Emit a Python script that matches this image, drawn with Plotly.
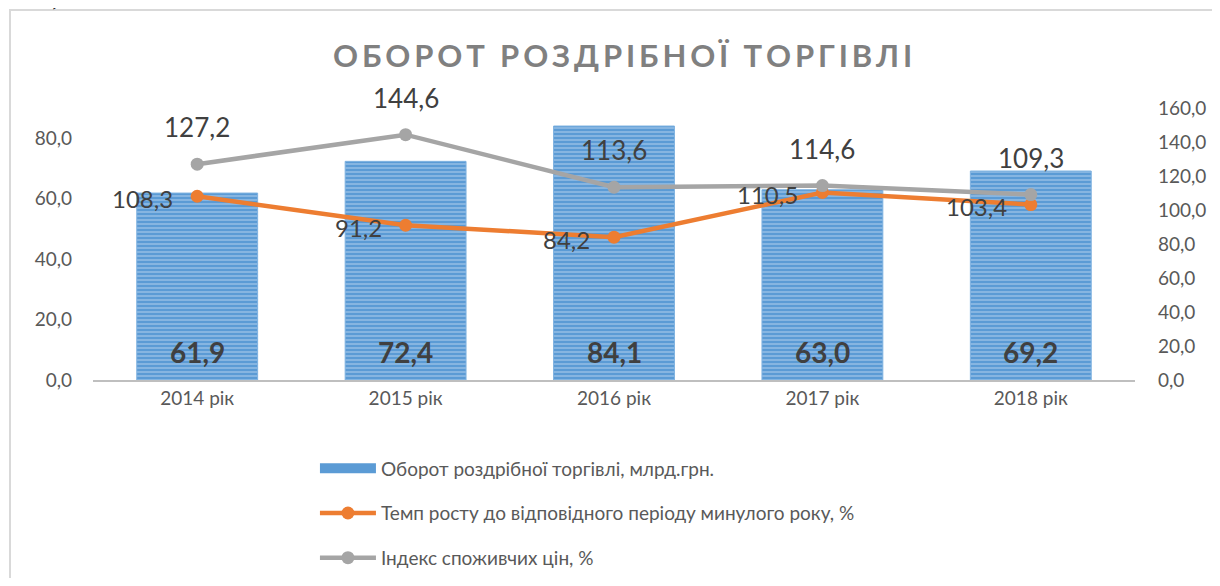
import plotly.graph_objects as go

categories = ["2014 рік", "2015 рік", "2016 рік", "2017 рік", "2018 рік"]
turnover = [61.9, 72.4, 84.1, 63.0, 69.2]
growth_rate = [108.3, 91.2, 84.2, 110.5, 103.4]
cpi = [127.2, 144.6, 113.6, 114.6, 109.3]

left_ticks = [0, 20, 40, 60, 80]
right_ticks = [0, 20, 40, 60, 80, 100, 120, 140, 160]

def fmt(v):
    return f"{v:.1f}".replace(".", ",")

FONT = "Lato, 'Open Sans', sans-serif"
BLUE = "#5B9BD5"
ORANGE = "#ED7D31"
GRAY = "#A5A5A5"
TXT = "#595959"

W, H = 1204, 570
ML, MR, MT, MB = 85, 77, 70, 198
PW = W - ML - MR
PH = H - MT - MB

fig = go.Figure()

fig.add_trace(go.Bar(
    x=categories, y=turnover,
    name="Оборот роздрібної торгівлі, млрд.грн.",
    marker=dict(color=BLUE,
                line=dict(color="#7FB2E0", width=1),
                pattern=dict(shape="-", fgcolor="#EAF2FB", bgcolor=BLUE,
                             size=4, solidity=0.3, fillmode="overlay")),
    yaxis="y", showlegend=False, legendgroup="a",
))
# legend entry for the bar series (wide swatch)
fig.add_trace(go.Scatter(
    x=[None], y=[None], mode="lines",
    name="Оборот роздрібної торгівлі, млрд.грн.",
    line=dict(color=BLUE, width=11), yaxis="y", legendgroup="a",
))
fig.add_trace(go.Scatter(
    x=categories, y=growth_rate, mode="lines+markers",
    name="Темп росту до відповідного періоду минулого року, %",
    line=dict(color=ORANGE, width=4.5), marker=dict(size=13, color=ORANGE),
    yaxis="y2", legendgroup="b",
))
fig.add_trace(go.Scatter(
    x=categories, y=cpi, mode="lines+markers",
    name="Індекс споживчих цін, %",
    line=dict(color=GRAY, width=4.5), marker=dict(size=13, color=GRAY),
    yaxis="y2", legendgroup="c",
))

annotations = []
for c, v in zip(categories, turnover):
    annotations.append(dict(x=c, y=0, xref="x", yref="y", text=f"<b>{fmt(v)}</b>",
                            showarrow=False, yshift=28,
                            font=dict(family=FONT, size=28, color="#404040")))
for c, v in zip(categories, cpi):
    annotations.append(dict(x=c, y=v, xref="x", yref="y2", text=fmt(v),
                            showarrow=False, yshift=37,
                            font=dict(family=FONT, size=26, color="#404040")))
for c, v in zip(categories, growth_rate):
    annotations.append(dict(x=c, y=v, xref="x", yref="y2", text=fmt(v),
                            showarrow=False, xanchor="right", xshift=-22, yshift=-2,
                            font=dict(family=FONT, size=24, color="#404040")))

title_text = "\u2009".join(list("ОБОРОТ РОЗДРІБНОЇ ТОРГІВЛІ"))
annotations.append(dict(x=0.5, y=(372 - 47) / PH, xref="paper", yref="paper",
                        text=f"<b>{title_text}</b>", showarrow=False, yanchor="middle",
                        xshift=8, font=dict(family=FONT, size=31, color="#808080")))
annotations.append(dict(x=(59 - ML) / PW, y=(372 + 11) / PH, xref="paper", yref="paper",
                        text="л 10).", showarrow=False, xanchor="right", yanchor="middle",
                        font=dict(family="Liberation Serif", size=22, color="#000000")))

fig.update_layout(
    width=W, height=H,
    margin=dict(l=ML, r=MR, t=MT, b=MB, autoexpand=False),
    paper_bgcolor="white", plot_bgcolor="white",
    font=dict(family=FONT, size=19, color=TXT),
    bargap=0.42,
    xaxis=dict(categoryorder="array", categoryarray=categories,
               showline=True, linecolor="#BFBFBF", linewidth=2,
               showgrid=False, ticks="", tickfont=dict(size=19, color=TXT)),
    yaxis=dict(range=[0, 100], tickvals=left_ticks, ticktext=[fmt(t) for t in left_ticks],
               showgrid=False, zeroline=False, showline=False, ticks="",
               tickfont=dict(size=19, color=TXT), ticklabelstandoff=20),
    yaxis2=dict(range=[0, 178], overlaying="y", side="right",
                tickvals=right_ticks, ticktext=[fmt(t) for t in right_ticks],
                showgrid=False, zeroline=False, showline=False, ticks="",
                tickfont=dict(size=19, color=TXT), ticklabelstandoff=22),
    legend=dict(orientation="v", x=0.213, y=-0.23, xanchor="left", yanchor="top",
                font=dict(family=FONT, size=19, color=TXT),
                itemwidth=56, tracegroupgap=17, bgcolor="rgba(0,0,0,0)"),
    annotations=annotations,
    shapes=[dict(type="rect", xref="paper", yref="paper",
                 x0=(2 - ML) / PW, x1=(1240 - ML) / PW,
                 y0=(372 - 620) / PH, y1=(372 - 2) / PH,
                 line=dict(color="#D9D9D9", width=2), fillcolor="rgba(0,0,0,0)",
                 layer="below")],
)

fig.write_html("out.html")
